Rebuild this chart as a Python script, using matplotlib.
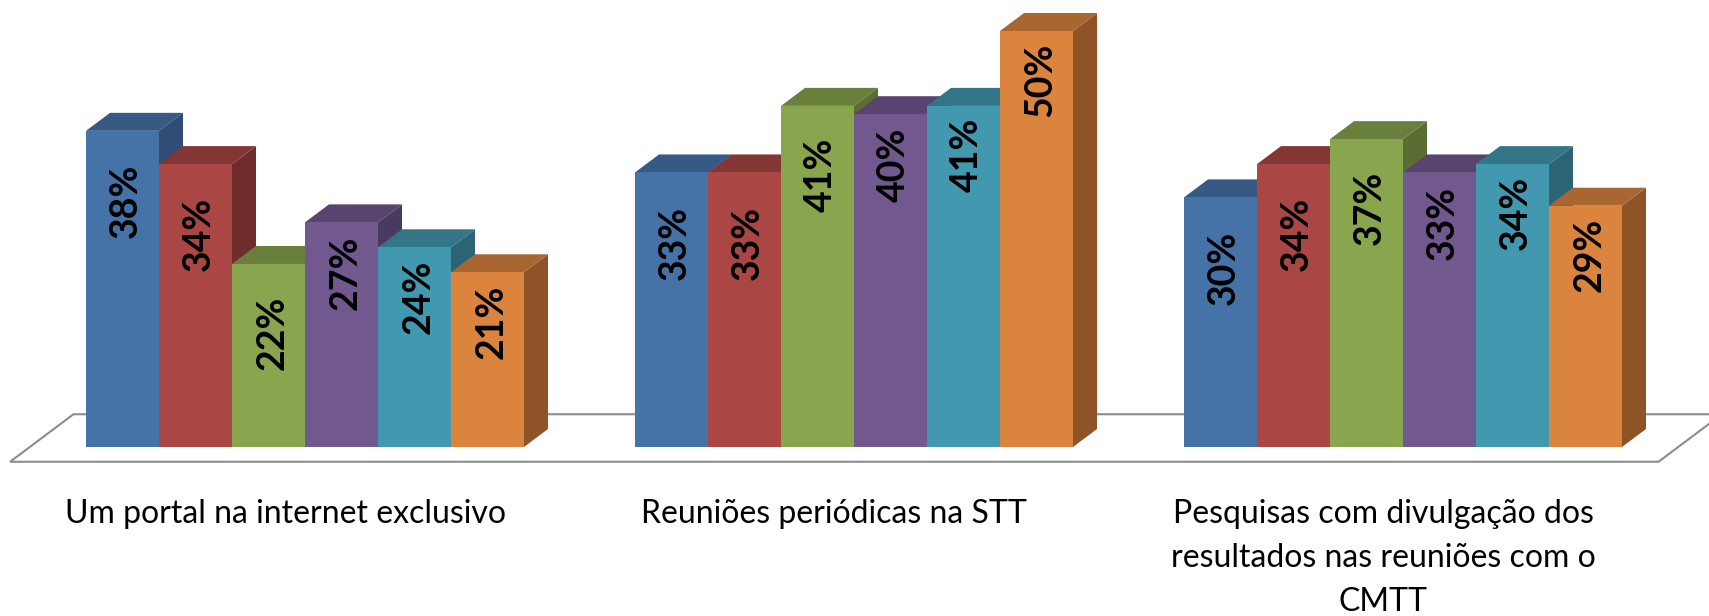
import matplotlib.pyplot as plt
from matplotlib.patches import Polygon

# dados
categorias = ['Um portal na internet exclusivo',
              'Reuniões periódicas na STT',
              'Pesquisas com divulgação dos\nresultados nas reuniões com o\nCMTT']
serie_azul = [38, 33, 30]
serie_vermelha = [34, 33, 34]
serie_verde = [22, 41, 37]
serie_roxa = [27, 40, 33]
serie_turquesa = [24, 41, 34]
serie_laranja = [21, 50, 29]
series = [serie_azul, serie_vermelha, serie_verde, serie_roxa, serie_turquesa, serie_laranja]

# cores: frente, topo, lado
cores = [('#4572A7', '#365A84', '#2F4D72'),
         ('#AA4643', '#843634', '#6E2C2B'),
         ('#89A54E', '#6A7F3C', '#5B6D33'),
         ('#71588F', '#58446F', '#4B3A5F'),
         ('#4198AF', '#327688', '#2B6575'),
         ('#DB843D', '#AA6630', '#8E5428')]
offs_rotulo = [33, 33, 32, 13, 12, 12]  # px abaixo do topo

W, H = 1709, 616
px_x = 73.0   # px por largura de barra
px_y = 8.32   # px por ponto percentual
base = 447    # linha da base (px a partir do topo)
centro0 = 305
gap = 549 / px_x
dx = 24 / px_x
dy = 18 / px_y

fig = plt.figure(figsize=(W / 100, H / 100), dpi=100)
ax = fig.add_axes([0, 0, 1, 1])
ax.set_xlim(-centro0 / px_x, (W - centro0) / px_x)
ax.set_ylim(-(H - base) / px_y, base / px_y)
ax.axis('off')

# piso
x0 = -3 - 0.77
x1 = 2 * gap + 3 + 0.77
tf, tb = -0.82, 1.82
piso = [(x0 + tf * dx, tf * dy), (x1 + tf * dx, tf * dy),
        (x1 + tb * dx, tb * dy), (x0 + tb * dx, tb * dy)]
ax.add_patch(Polygon(piso, closed=True, facecolor='white', edgecolor='#8C8C8C',
                     lw=1.5, zorder=1))

z = 2
for g in range(len(categorias)):
    for i, serie in enumerate(series):
        v = serie[g]
        left = g * gap - 3 + i
        frente, topo, lado = cores[i]
        r = left + 1
        ax.add_patch(Polygon([(r, 0), (r + dx, dy), (r + dx, v + dy), (r, v)],
                             closed=True, facecolor=lado, lw=0, zorder=z))
        ax.add_patch(Polygon([(left, v), (r, v), (r + dx, v + dy), (left + dx, v + dy)],
                             closed=True, facecolor=topo, lw=0, zorder=z))
        ax.bar(left, v, width=1, align='edge', color=frente, lw=0, zorder=z + 1)
        ax.text(left + 0.55, v - offs_rotulo[i] / px_y, f'{v}%', rotation=90,
                ha='center', va='top', fontsize=27, fontweight='bold',
                family='Lato', color='black', zorder=z + 2)
        z += 3
    ax.text(g * gap + tf * dx, (base - 499) / px_y, categorias[g], ha='center',
            va='top', fontsize=23, family='Lato', linespacing=1.58, color='black')

fig.savefig('out.png', dpi=100, facecolor='white')
